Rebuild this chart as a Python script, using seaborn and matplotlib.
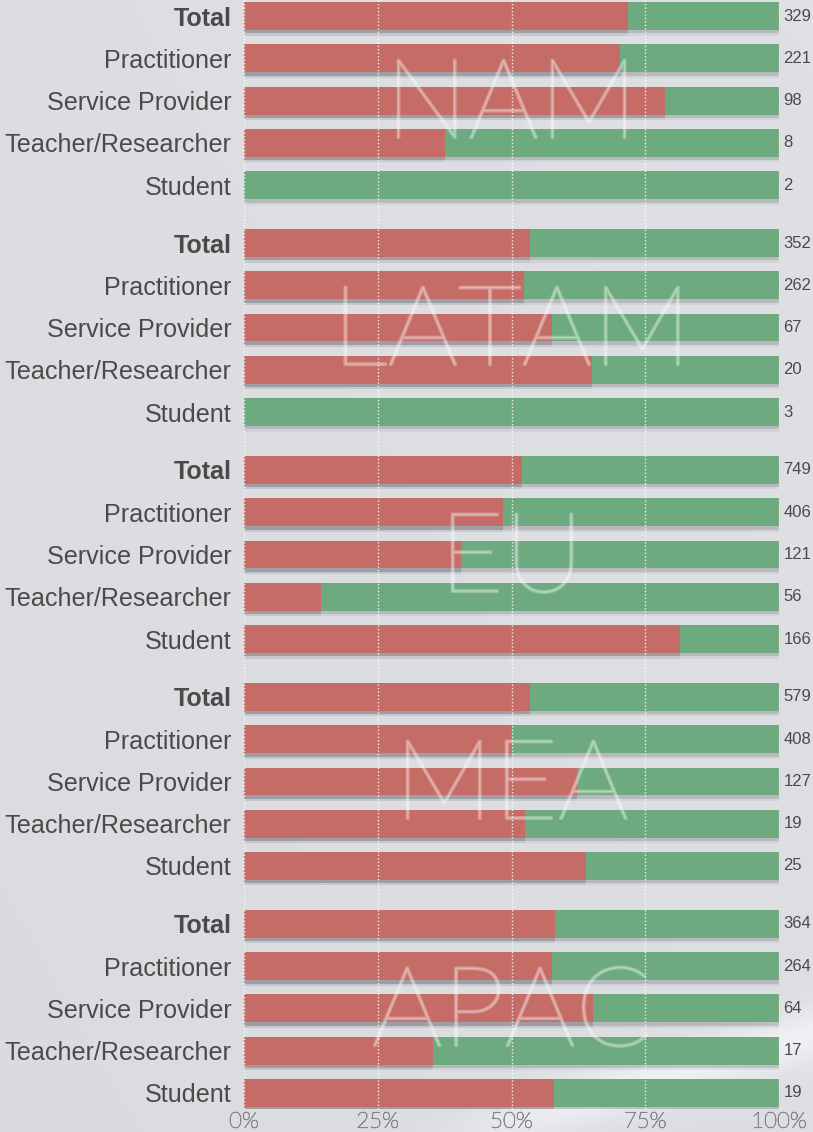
import numpy as np
import pandas as pd
import seaborn as sns
import matplotlib.pyplot as plt
import matplotlib.patheffects as pe

regions = ['NAM', 'LATAM', 'EU', 'MEA', 'APAC']
roles = ['Total', 'Practitioner', 'Service Provider', 'Teacher/Researcher', 'Student']

# share of respondents in the red segment (%), per role
nam_pct = [71.7, 70.2, 78.6, 37.5, 0.0]
latam_pct = [53.4, 52.3, 57.5, 65.0, 0.0]
eu_pct = [51.9, 48.4, 40.6, 14.3, 81.5]
mea_pct = [53.5, 50.1, 62.2, 52.6, 64.0]
apac_pct = [58.2, 57.6, 65.2, 35.3, 57.9]

# number of respondents per row
nam_n = [329, 221, 98, 8, 2]
latam_n = [352, 262, 67, 20, 3]
eu_n = [749, 406, 121, 56, 166]
mea_n = [579, 408, 127, 19, 25]
apac_n = [364, 264, 64, 17, 19]

pcts = [nam_pct, latam_pct, eu_pct, mea_pct, apac_pct]
counts = [nam_n, latam_n, eu_n, mea_n, apac_n]

GROUP_STEP = 5.37
rows = []
for g, reg in enumerate(regions):
    for i, role in enumerate(roles):
        rows.append({'region': reg, 'role': role, 'pct': pcts[g][i],
                     'n': counts[g][i], 'full': 100.0,
                     'pos': round(g * GROUP_STEP + i, 3)})
df = pd.DataFrame(rows)

red = '#c56c66'
green = '#6daa7f'
txt = '#4a4a4a'

fig = plt.figure(figsize=(8.13, 11.32), dpi=100, facecolor='#dcdde1')

# soft background shading with a pale swoosh at the bottom right
bg = fig.add_axes([0, 0, 1, 1], zorder=-10)
yy, xx = np.mgrid[0:1:300j, 0:1:200j]
shade = 0.865 + 0.01 * xx - 0.008 * yy
centre = 1.0 - 0.2 * (xx - 0.58)
fade = 1 / (1 + np.exp(-(xx - 0.6) / 0.04))
band = np.exp(-((yy - centre) / 0.025) ** 2) * fade * 0.07
img = np.clip(shade + band, 0, 1)
bg.imshow(np.dstack([img, img + 0.004, img + 0.018]).clip(0, 1), aspect='auto',
          extent=[0, 1, 0, 1], origin='upper')
bg.axis('off')

ax = fig.add_axes([244 / 813, 1 - 1109 / 1132, 535 / 813, 1109 / 1132])
ax.set_facecolor('none')

sns.barplot(data=df, x='full', y='pos', orient='y', native_scale=True,
            color=green, saturation=1, width=0.66, errorbar=None, ax=ax)
sns.barplot(data=df, x='pct', y='pos', orient='y', native_scale=True,
            color=red, saturation=1, width=0.66, errorbar=None, ax=ax)

for p in ax.patches:
    p.set_linewidth(0)
    p.set_path_effects([pe.SimplePatchShadow(offset=(0, -2.5), shadow_rgbFace=(0.35, 0.35, 0.4), alpha=0.22),
                        pe.SimplePatchShadow(offset=(0, -4), shadow_rgbFace=(0.5, 0.5, 0.55), alpha=0.12),
                        pe.Normal()])

for v in [0, 25, 50, 75, 100]:
    ax.axvline(v, color='white', ls=(0, (1, 1.5)), lw=1, alpha=0.85, zorder=4)

for _, r in df.iterrows():
    ax.text(100.8, r['pos'], str(r['n']), va='center', ha='left',
            fontsize=12, color=txt, family='Liberation Sans', clip_on=False)

for g, reg in enumerate(regions):
    ax.text(50, g * GROUP_STEP + 2.17, reg, ha='center', va='center',
            fontsize=80, color='white', family=['Lato', 'DejaVu Sans'],
            fontweight='light', zorder=5,
            path_effects=[pe.Stroke(linewidth=2.0, foreground='white', alpha=0.3)])

ax.set_xlim(0, 100)
ax.set_ylim(4 * GROUP_STEP + 4 + 0.38, -0.38)
ax.set_yticks(df['pos'], df['role'])
for lab, role in zip(ax.get_yticklabels(), df['role']):
    lab.set_family('Liberation Sans')
    lab.set_fontsize(18.1)
    lab.set_color(txt)
    if role == 'Total':
        lab.set_fontweight('bold')
ax.set_xticks([0, 25, 50, 75, 100], ['0%', '25%', '50%', '75%', '100%'])
for lab in ax.get_xticklabels():
    lab.set_family(['Lato', 'DejaVu Sans'])
    lab.set_fontweight('light')
    lab.set_fontsize(16)
    lab.set_color('#85858a')
    lab.set_path_effects([pe.Stroke(linewidth=0.5, foreground='#85858a'), pe.Normal()])
ax.tick_params(axis='y', length=0, pad=9)
ax.tick_params(axis='x', length=0, pad=2)
ax.set_xlabel('')
ax.set_ylabel('')
for s in ax.spines.values():
    s.set_visible(False)

fig.savefig('out.png', dpi=100, facecolor=fig.get_facecolor())
